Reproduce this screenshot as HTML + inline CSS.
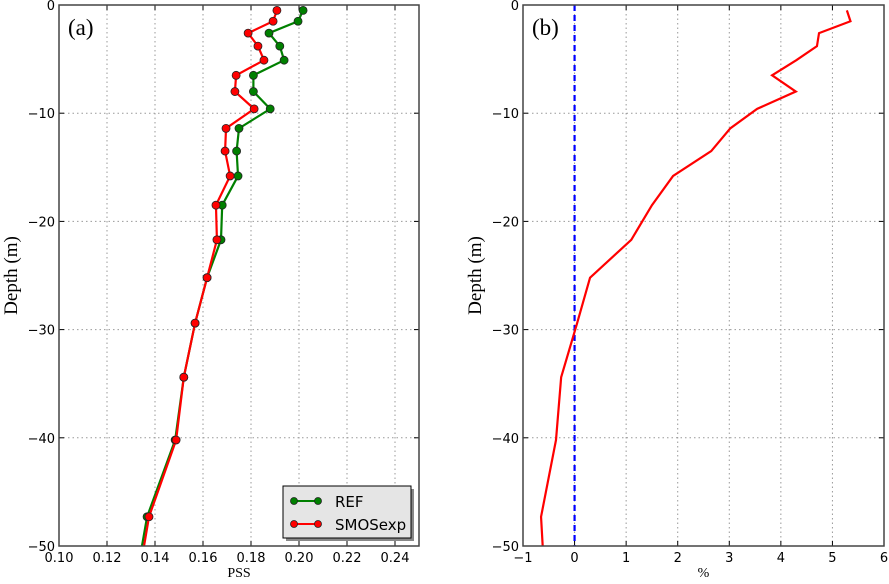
<!DOCTYPE html>
<html><head><meta charset="utf-8"><style>
body{margin:0;background:#fff;width:889px;height:579px;overflow:hidden}
svg text{font-family:"DejaVu Sans","Liberation Sans",sans-serif}
.serif{font-family:"Liberation Serif",serif}
</style></head><body>
<svg id="c" width="889" height="579" viewBox="0 0 889 579"></svg>
<script>
const depths=[0.5,1.5,2.6,3.8,5.1,6.5,8.0,9.6,11.4,13.5,15.8,18.5,21.7,25.2,29.4,34.4,40.2,47.3,55.8];
const refPSS=[0.2017,0.1996,0.1875,0.192,0.1938,0.181,0.181,0.188,0.175,0.174,0.1746,0.168,0.1675,0.1617,0.1567,0.152,0.1484,0.1367,0.130];
const smosPSS=[0.1908,0.1892,0.1788,0.1829,0.1854,0.1738,0.1733,0.1813,0.1696,0.1692,0.1713,0.1654,0.1658,0.1617,0.1567,0.152,0.1488,0.1375,0.131];
const diffPct=[5.28,5.35,4.74,4.70,4.3,3.83,4.29,3.54,3.02,2.65,1.91,1.5,1.1,0.3,0.05,-0.26,-0.36,-0.65,-0.55];
const xTicksA=["0.10","0.12","0.14","0.16","0.18","0.20","0.22","0.24"];
const xTicksB=["−1","0","1","2","3","4","5","6"];
const yTicks=[0,-10,-20,-30,-40,-50];

const NS="http://www.w3.org/2000/svg",svg=document.getElementById('c');
function el(t,a,p){const e=document.createElementNS(NS,t);for(const k in a)e.setAttribute(k,a[k]);(p||svg).appendChild(e);return e;}
const yTop=5,bot=546;
function yD(d){return yTop+d*(bot-yTop)/50;}
function panel(id,x0,x1,xmin,xmax,ticks,tickVals,label,xlabel){
  const g=el('g',{});
  
  
  const xs=v=>x0+(v-xmin)*(x1-x0)/(xmax-xmin);
  el('clipPath',{id:id+'-clip'},g);
  el('rect',{x:x0,y:yTop,width:x1-x0,height:bot-yTop},g.lastChild);
  tickVals.forEach((v,i)=>{
    const x=xs(v);
    if(x>x0+1&&x<x1-1){const l=el('line',{x1:x,x2:x,y1:yTop,y2:bot,stroke:'#999','stroke-dasharray':'1.5,3','stroke-width':1},g);}
    el('line',{x1:x,x2:x,y1:bot,y2:bot-5,stroke:'#000'},g);
    el('line',{x1:x,x2:x,y1:yTop,y2:yTop+5,stroke:'#000'},g);
    const t=el('text',{x:x,y:bot+16,'text-anchor':'middle','font-size':13},g);t.textContent=ticks[i];
    
  });
  yTicks.forEach(v=>{
    const y=yD(-v);
    if(y>yTop+1&&y<bot-1){const l=el('line',{x1:x0,x2:x1,y1:y,y2:y,stroke:'#999','stroke-dasharray':'1.5,3'},g);}
    el('line',{x1:x0,x2:x0+5,y1:y,y2:y,stroke:'#000'},g);
    el('line',{x1:x1,x2:x1-5,y1:y,y2:y,stroke:'#000'},g);
    const t=el('text',{x:x0-4,y:y+5,'text-anchor':'end','font-size':13},g);t.textContent=v<0?'−'+(-v):String(v);
    
  });
  const yl=el('text',{x:0,y:0,'text-anchor':'middle','font-size':19,class:'serif',transform:`translate(${x0-42},${(yTop+bot)/2}) rotate(-90)`},g);
  yl.textContent='Depth (m)';
  const xl=el('text',{x:(x0+x1)/2,y:577,'text-anchor':'middle','font-size':14,class:'serif'},g);
  xl.textContent=xlabel;
  const pl=el('text',{x:x0+9,y:yTop+30,'font-size':23,class:'serif'},g);
  pl.textContent=label;
  return {g,xs,clip:'url(#'+id+'-clip)',frame:()=>{const r=el('rect',{x:x0,y:yTop,width:x1-x0,height:bot-yTop,fill:'none',stroke:'#444','stroke-width':1.5},g);}};
}
function series(P,vals,color,name,markers){
  const g=el('g',{'clip-path':P.clip},P.g);
  
  const pts=vals.map((v,i)=>P.xs(v)+','+yD(depths[i])).join(' ');
  el('polyline',{points:pts,fill:'none',stroke:color,'stroke-width':2.2,'stroke-linejoin':'miter'},g);
  if(markers)vals.forEach((v,i)=>{const c=el('circle',{cx:P.xs(v),cy:yD(depths[i]),r:4,fill:color,stroke:'#222','stroke-width':0.8},g);});
}
const A=panel('panel-a',59,419,0.10,0.25,xTicksA,[0.10,0.12,0.14,0.16,0.18,0.20,0.22,0.24],'(a)','PSS');
series(A,refPSS,'#008000','ref-series',true);
series(A,smosPSS,'#ff0000','smosexp-series',true);
A.frame();
const lg=el('g',{});
el('rect',{x:286,y:489,width:128,height:52,fill:'#888'},lg);
el('rect',{x:283,y:486,width:128,height:52,fill:'#e5e5e5',stroke:'#000','stroke-width':1},lg);
[['REF','#008000',501],['SMOSexp','#ff0000',524]].forEach(([n,c,y])=>{
  const e=el('g',{},lg);
  el('line',{x1:294,x2:318,y1:y,y2:y,stroke:c,'stroke-width':2},e);
  el('circle',{cx:294,cy:y,r:3.5,fill:c,stroke:'#222','stroke-width':.8},e);
  el('circle',{cx:318,cy:y,r:3.5,fill:c,stroke:'#222','stroke-width':.8},e);
  const t=el('text',{x:335,y:y+6,'font-size':15},e);t.textContent=n;
});
const B=panel('panel-b',523,884,-1,6,xTicksB,[-1,0,1,2,3,4,5,6],'(b)','%');
const z=el('line',{x1:B.xs(0),x2:B.xs(0),y1:yTop,y2:bot,stroke:'#0000ff','stroke-width':2.2,'stroke-dasharray':'6,4'},B.g);

series(B,diffPct,'#ff0000','difference-series',false);
B.frame();
</script>
</body></html>
